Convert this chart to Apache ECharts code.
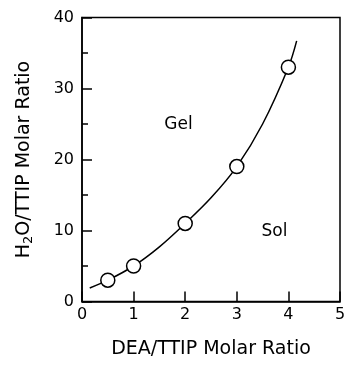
<!DOCTYPE html>
<html>
<head>
<meta charset="utf-8">
<script src="https://cdn.jsdelivr.net/npm/echarts@6/dist/echarts.min.js"></script>
<style>
  html, body { margin: 0; padding: 0; background: #fff; }
  #chart { width: 344px; height: 365px; }
</style>
</head>
<body>
<div id="chart"></div>
<script>
// Measured gel/sol boundary points
var deaRatio = [0.5, 1, 2, 3, 4];
var h2oRatio = [3, 5, 11, 19, 33];

// Hand-drawn boundary curve through the measurements
var curveX = [0.15, 0.5, 1, 1.5, 2, 2.5, 3, 3.5, 4, 4.16];
var curveY = [1.9, 3, 5, 7.7, 11, 14.6, 19, 25, 33, 36.7];

// Region labels
var regionNames = ['Gel', 'Sol'];
var regionX = [1.87, 3.73];
var regionY = [24.9, 9.8];

var FONT = 'DejaVu Sans';

var chart = echarts.init(document.getElementById('chart'), null, { renderer: 'canvas' });

chart.setOption({
  animation: false,
  backgroundColor: '#fff',
  grid: {
    left: 82, top: 17.5, width: 258, height: 284,
    outerBoundsMode: 'none', containLabel: false,
    show: true, borderColor: '#000', borderWidth: 1.5, backgroundColor: 'transparent'
  },
  xAxis: {
    type: 'value', min: 0, max: 5, interval: 1,
    name: 'DEA/TTIP Molar Ratio',
    nameLocation: 'middle', nameGap: 38,
    nameTextStyle: { fontFamily: FONT, fontSize: 19, color: '#000' },
    axisLine: { show: true, lineStyle: { color: '#000', width: 1.5 } },
    axisTick: { show: true, inside: true, length: 10, lineStyle: { color: '#000', width: 1.5 } },
    axisLabel: { fontFamily: FONT, fontSize: 16, color: '#000', margin: 5, showMaxLabel: true },
    splitLine: { show: false }
  },
  yAxis: {
    type: 'value', min: 0, max: 40, interval: 10,
    name: '{a|H}{s|2}{a|O/TTIP Molar Ratio}',
    nameLocation: 'middle', nameGap: 47,
    nameTextStyle: {
      fontFamily: FONT, fontSize: 19, color: '#000',
      rich: {
        a: { fontFamily: FONT, fontSize: 19, color: '#000' },
        s: { fontFamily: FONT, fontSize: 13, color: '#000', padding: [8, 0, 0, 0] }
      }
    },
    axisLine: { show: true, lineStyle: { color: '#000', width: 1.5 } },
    axisTick: { show: true, inside: true, length: 10, lineStyle: { color: '#000', width: 1.5 } },
    minorTick: { show: true, splitNumber: 2, length: 6, lineStyle: { color: '#000', width: 1.5 } },
    axisLabel: { fontFamily: FONT, fontSize: 16, color: '#000', margin: 8 },
    splitLine: { show: false }
  },
  series: [
    {
      type: 'line',
      data: curveX.map(function (x, i) { return [x, curveY[i]]; }),
      smooth: 0.35,
      showSymbol: false,
      lineStyle: { color: '#000', width: 1.5 },
      z: 2
    },
    {
      type: 'scatter',
      data: deaRatio.map(function (x, i) { return [x, h2oRatio[i]]; }),
      symbol: 'circle',
      symbolSize: 14,
      itemStyle: { color: '#fff', borderColor: '#000', borderWidth: 1.5, opacity: 1 },
      z: 3
    },
    {
      type: 'scatter',
      data: regionNames.map(function (n, i) { return { name: n, value: [regionX[i], regionY[i]] }; }),
      symbolSize: 0,
      itemStyle: { opacity: 1 },
      label: {
        show: true, position: 'inside',
        formatter: function (p) { return p.name; },
        fontFamily: FONT, fontSize: 17, color: '#000', opacity: 1
      },
      z: 4
    }
  ]
});
</script>
</body>
</html>
